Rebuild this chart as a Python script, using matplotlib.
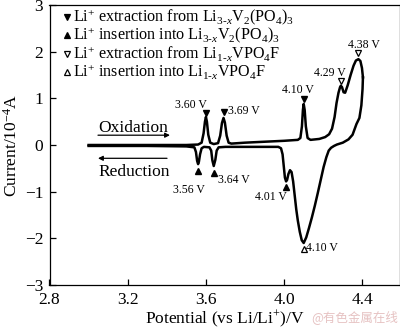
import matplotlib
matplotlib.use("Agg")
import matplotlib.pyplot as plt

plt.rcParams["font.family"] = ["Liberation Serif", "DejaVu Serif"]
plt.rcParams["mathtext.fontset"] = "custom"
plt.rcParams["mathtext.rm"] = "Liberation Serif"
plt.rcParams["mathtext.it"] = "Liberation Serif:italic"
plt.rcParams["mathtext.bf"] = "Liberation Serif:bold"

# Anodic sweep (potential increasing), V vs Li/Li+ and current in 1e-4 A
ox_v = [3.000, 3.300, 3.500, 3.560, 3.578, 3.588, 3.595, 3.600, 3.605, 3.612,
        3.622, 3.640, 3.662, 3.673, 3.682, 3.690, 3.697, 3.706, 3.716, 3.730,
        3.800, 3.900, 4.000, 4.070, 4.083, 4.091, 4.096, 4.100, 4.105, 4.111,
        4.120, 4.135, 4.180, 4.210, 4.230, 4.245, 4.258, 4.268, 4.278, 4.286,
        4.290, 4.296, 4.304, 4.312, 4.325, 4.340, 4.355, 4.367, 4.380, 4.390,
        4.398, 4.403]
ox_i = [0.00, 0.00, 0.00, 0.01, 0.05, 0.25, 0.50, 0.60, 0.50, 0.22,
        0.05, 0.02, 0.04, 0.20, 0.47, 0.58, 0.48, 0.20, 0.05, 0.03,
        0.05, 0.07, 0.09, 0.11, 0.15, 0.40, 0.75, 0.88, 0.75, 0.40,
        0.15, 0.11, 0.13, 0.17, 0.23, 0.35, 0.60, 0.90, 1.12, 1.24,
        1.27, 1.24, 1.13, 1.12, 1.28, 1.50, 1.70, 1.81, 1.84, 1.80,
        1.65, 1.45]

# Cathodic sweep (potential decreasing)
red_v = [4.403, 4.401, 4.395, 4.385, 4.370, 4.350, 4.329, 4.300, 4.270, 4.255,
         4.240, 4.228, 4.216, 4.202, 4.187, 4.172, 4.157, 4.142, 4.127, 4.113,
         4.100, 4.090, 4.080, 4.070, 4.062, 4.054, 4.046, 4.038, 4.030, 4.022,
         4.015, 4.010, 4.004, 3.998, 3.992, 3.984, 3.970, 3.900, 3.800, 3.700,
         3.665, 3.655, 3.648, 3.640, 3.633, 3.627, 3.618, 3.590, 3.578, 3.570,
         3.564, 3.560, 3.555, 3.549, 3.541, 3.500, 3.300, 3.000]
red_i = [1.45, 1.20, 0.85, 0.58, 0.45, 0.22, 0.12, 0.05, 0.01, -0.02,
         -0.06, -0.12, -0.26, -0.47, -0.75, -1.03, -1.30, -1.55, -1.78, -1.98,
         -2.10, -2.04, -1.86, -1.62, -1.38, -1.08, -0.78, -0.58, -0.54, -0.62,
         -0.75, -0.78, -0.70, -0.45, -0.20, -0.07, -0.04, -0.04, -0.04, -0.04,
         -0.05, -0.12, -0.32, -0.45, -0.33, -0.12, -0.05, -0.04, -0.07, -0.20,
         -0.36, -0.41, -0.34, -0.15, -0.05, -0.03, -0.02, -0.02]

# Peak annotations: potential and marker current
ox_peak_v = [3.60, 3.69, 4.10]
ox_peak_mark = [0.69, 0.70, 0.99]
red_peak_v = [3.56, 3.64, 4.01]
red_peak_mark = [-0.56, -0.61, -0.91]
f_ox_v = [4.29, 4.38]
f_ox_mark = [1.37, 1.97]
f_red_v = [4.10]
f_red_mark = [-2.23]

legend_labels = [
    r"Li$^{+}$ extraction from Li$_{3‐x}$V$_{2}$(PO$_{4}$)$_{3}$",
    r"Li$^{+}$ insertion into Li$_{3‐x}$V$_{2}$(PO$_{4}$)$_{3}$",
    r"Li$^{+}$ extraction from Li$_{1‐x}$VPO$_{4}$F",
    r"Li$^{+}$ insertion into Li$_{1‐x}$VPO$_{4}$F",
]
legend_markers = ["v", "^", "v", "^"]
legend_filled = [True, True, False, False]

x_ticks = [2.8, 3.2, 3.6, 4.0, 4.4]
y_ticks = [-3, -2, -1, 0, 1, 2, 3]

fig = plt.figure(figsize=(4.0, 3.29), dpi=100)
ax = fig.add_axes([49.5 / 400, 1 - 285 / 329, 350 / 400, 280 / 329])

ax.plot(ox_v, ox_i, color="black", lw=1.8, solid_joinstyle="round")
ax.plot(red_v, red_i, color="black", lw=1.8, solid_joinstyle="round")

ms = 4.5
ax.plot(ox_peak_v, ox_peak_mark, ls="none", marker="v", ms=ms, color="black")
ax.plot(red_peak_v, red_peak_mark, ls="none", marker="^", ms=ms, color="black")
ax.plot(f_ox_v, f_ox_mark, ls="none", marker="v", ms=ms, mfc="white",
        mec="black", mew=0.9)
ax.plot(f_red_v, f_red_mark, ls="none", marker="^", ms=ms, mfc="white",
        mec="black", mew=0.9)

fs = 8.5
ax.text(3.525, 0.80, "3.60 V", fontsize=fs, ha="center", va="baseline")
ax.text(3.713, 0.655, "3.69 V", fontsize=fs, ha="left", va="baseline")
ax.text(4.069, 1.11, "4.10 V", fontsize=fs, ha="center", va="baseline")
ax.text(4.235, 1.47, "4.29 V", fontsize=fs, ha="center", va="baseline")
ax.text(4.406, 2.07, "4.38 V", fontsize=fs, ha="center", va="baseline")
ax.text(3.511, -1.03, "3.56 V", fontsize=fs, ha="center", va="baseline")
ax.text(3.662, -0.82, "3.64 V", fontsize=fs, ha="left", va="baseline")
ax.text(3.933, -1.18, "4.01 V", fontsize=fs, ha="center", va="baseline")
ax.text(4.112, -2.28, "4.10 V", fontsize=fs, ha="left", va="baseline")

# Sweep direction labels
ax.text(3.048, 0.27, "Oxidation", fontsize=12.5, ha="left", va="baseline")
ax.annotate("", xy=(3.416, 0.21), xytext=(3.048, 0.21),
            arrowprops=dict(arrowstyle="-|>", color="black", lw=0.9,
                            mutation_scale=7, shrinkA=0, shrinkB=0))
ax.text(3.048, -0.67, "Reduction", fontsize=12.5, ha="left", va="baseline")
ax.annotate("", xy=(3.048, -0.285), xytext=(3.401, -0.285),
            arrowprops=dict(arrowstyle="-|>", color="black", lw=0.9,
                            mutation_scale=7, shrinkA=0, shrinkB=0))

# Key for the peak markers, stacked in the upper-left corner
row_base = [0.940, 0.876, 0.808, 0.744]
for k, (lab, mk, filled) in enumerate(zip(legend_labels, legend_markers,
                                           legend_filled)):
    yb = row_base[k]
    ym = yb + (0.016 if mk == "v" else 0.018)
    ax.plot([0.049], [ym], transform=ax.transAxes, clip_on=False, ls="none",
            marker=mk, ms=ms, mfc="black" if filled else "white",
            mec="black", mew=0.9)
    ax.text(0.068, yb, lab, transform=ax.transAxes, fontsize=11.6,
            ha="left", va="baseline")

ax.set_xlim(2.8, 4.59)
ax.set_ylim(-3, 3)
ax.set_xticks(x_ticks)
ax.set_xticklabels([f"{t:.1f}" for t in x_ticks])
ax.set_yticks(y_ticks)
ax.set_yticklabels([str(t).replace("-", "\u2212") for t in y_ticks])
ax.tick_params(direction="in", length=4, width=0.9, labelsize=12.5,
               top=False, right=False)
ax.tick_params(axis="x", pad=5)
ax.tick_params(axis="y", pad=4.5)
for s in ax.spines.values():
    s.set_linewidth(0.9)

ax.set_xlabel(r"Potential (vs Li/Li$^{+}$)/V", fontsize=12.5, labelpad=0.5)
ax.set_ylabel(r"Current/10$^{-4}$A", fontsize=12.5, labelpad=3)

fig.text(0.995, 0.025, "@有色金属在线", fontsize=9, color="#e6c2c2",
         ha="right", va="baseline",
         family=["Noto Sans CJK SC", "DejaVu Sans"])

fig.savefig("out.png", dpi=100)
